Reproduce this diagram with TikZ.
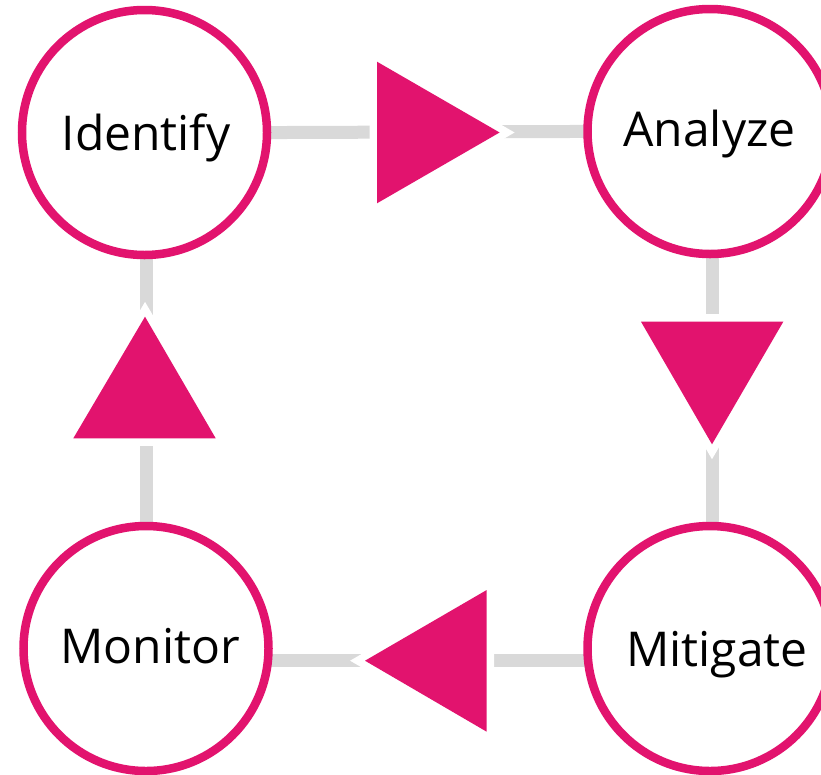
\documentclass[tikz,border=0pt]{standalone}
\usepackage{fontspec}
\setmainfont{Open Sans}
\usetikzlibrary{backgrounds}
\definecolor{mag}{HTML}{E2136E}
\definecolor{grayline}{HTML}{D9D9D9}
\tikzset{
  conn/.style={draw=grayline, line width=13pt},
  stepcircle/.style={circle, draw=mag, line width=8.5pt, fill=white, minimum size=245pt, inner sep=0pt},
  arrowtri/.style={fill=mag, preaction={draw=white, line width=15pt, miter limit=10}},
  txt/.style={font=\fontsize{48}{58}\selectfont, text=black, anchor=base, inner sep=0pt}
}
\begin{document}
\begin{tikzpicture}[x=1pt,y=-1pt]
\useasboundingbox (0,0) rectangle (821,774);
% circles
\node[stepcircle] (id) at (144.5,132.5) {};
\node[stepcircle] (an) at (710,131.5) {};
\node[stepcircle] (mo) at (146,648.5) {};
\node[stepcircle] (mi) at (710,648.5) {};
% labels
\node[txt] (tid) at (146,150.7) {Identify};
\node[txt] (tan) at (709.5,146.7) {Analyze};
\node[txt] (tmo) at (150,663) {Monitor};
\node[txt] (tmi) at (717,666.7) {Mitigate};
\begin{scope}[on background layer]
\fill[white] (0,0) rectangle (821,774);
% connectors
\draw[conn] ([yshift=-0.5pt]id.center) -- ([yshift=0.5pt]an.center);
\draw[conn] ([xshift=2pt]an.center) -- ([xshift=2pt]mi.center);
\draw[conn] ([yshift=-11.5pt]mi.center) -- ([yshift=-11.5pt]mo.center);
\draw[conn] (mo.center) -- ([xshift=1.5pt]id.center);
% arrow triangles
\path[arrowtri] (377,61.7) -- (499.6,132.5) -- (377,203.3) -- cycle;
\path[arrowtri] (641,321.7) -- (783.3,321.7) -- (712,444.3) -- cycle;
\path[arrowtri] (73.3,438.3) -- (145,316.7) -- (215.7,438.3) -- cycle;
\path[arrowtri] (486.7,590) -- (486.7,731.7) -- (365,660.7) -- cycle;
\end{scope}
\end{tikzpicture}
\end{document}
